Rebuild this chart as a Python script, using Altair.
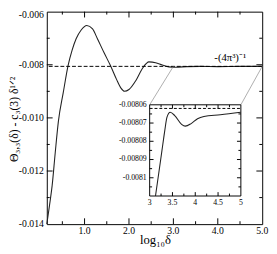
import altair as alt
import pandas as pd

# ---------------- data ----------------
main_x = [0.15, 0.21, 0.27, 0.34, 0.41, 0.52, 0.63, 0.72, 0.81, 0.92, 1.05, 1.18, 1.29, 1.44,
          1.58, 1.72, 1.82, 1.90, 2.00, 2.16, 2.31, 2.45, 2.60, 2.75, 2.90, 3.05, 3.30, 3.60,
          4.00, 4.50, 5.00]
main_y = [-0.01400, -0.01330, -0.01255, -0.01130, -0.01014, -0.00905, -0.00802, -0.00745,
          -0.00702, -0.00670, -0.00652, -0.00665, -0.00702, -0.00755, -0.00802, -0.00855,
          -0.00888, -0.00900, -0.00893, -0.00858, -0.00812, -0.00789, -0.00792, -0.00801,
          -0.00808, -0.00809, -0.00807, -0.00806, -0.00807, -0.00806, -0.00806]

inset_x = [3.128, 3.20, 3.27, 3.33, 3.38, 3.45, 3.55, 3.70, 3.78, 3.91, 4.05, 4.19, 4.55, 5.00]
inset_y = [-0.008110, -0.0080974, -0.008085, -0.0080744, -0.0080668, -0.0080641, -0.0080659,
           -0.0080707, -0.0080717, -0.0080703, -0.0080676, -0.0080664, -0.0080655, -0.0080641]

asymptote_main = [-0.00806]
asymptote_inset = [-0.008062]
connect_x = [3.0, 5.0]
connect_y = [-0.00806, -0.00806]

main_x_labels = [1.0, 2.0, 3.0, 4.0, 5.0]
main_x_label_text = ["1.0", "2.0", "3.0", "4.0", "5.0"]
main_y_top_label = [-0.006]
main_y_top_label_text = ["-0.006"]
main_y_labels = [-0.008, -0.010, -0.012, -0.014]
main_y_label_text = ["-0.008", "-0.010", "-0.012", "-0.014"]
main_x_major = [1.0, 2.0, 3.0, 4.0]
main_x_minor = [0.5, 1.5, 2.5, 3.5, 4.5]
main_y_major = [-0.008, -0.010, -0.012]
main_y_minor = [-0.007, -0.009, -0.011, -0.013]

inset_x_labels = [3.0, 3.5, 4.0, 4.5, 5.0]
inset_x_label_text = ["3", "3.5", "4", "4.5", "5"]
inset_y_labels = [-0.00806, -0.00807, -0.00808, -0.00809, -0.0081]
inset_y_label_text = ["-0.00806", "-0.00807", "-0.00808", "-0.00809", "-0.0081"]
inset_x_major = [3.5, 4.0, 4.5]
inset_x_minor = [3.25, 3.75, 4.25, 4.75]
inset_y_major = [-0.00807, -0.00808, -0.00809, -0.0081]
inset_y_minor = [-0.008065, -0.008075, -0.008085, -0.008095, -0.008105]

label_x = [4.28]
label_y = [-0.00787]
label_text = ["-(4π³)⁻¹"]

x_title = ["log₁₀δ"]
y_title = ["Θ₃,₃(δ) - c₃(3) δ¹ᐟ²"]

# ---------------- layout ----------------
FONT = "Liberation Serif"
W, H = 222, 219
IN_L, IN_R, IN_T, IN_B = 106, 200, 96, 190

xs_main = alt.Scale(domain=[0.15, 5.0], nice=False, zero=False)
ys_main = alt.Scale(domain=[-0.014, -0.006], nice=False, zero=False)
xs_in = alt.Scale(domain=[3.0, 5.0], range=[IN_L, IN_R], nice=False, zero=False)
ys_in = alt.Scale(domain=[-0.00811, -0.00806], range=[IN_B, IN_T], nice=False, zero=False)


def vticks(vals, scale, y0, y1):
    return alt.Chart(pd.DataFrame({"v": vals})).mark_rule(color="black", strokeWidth=1).encode(
        x=alt.X("v:Q", scale=scale, axis=None), y=alt.value(y0), y2=alt.value(y1))


def hticks(vals, scale, x0, x1):
    return alt.Chart(pd.DataFrame({"v": vals})).mark_rule(color="black", strokeWidth=1).encode(
        y=alt.Y("v:Q", scale=scale, axis=None), x=alt.value(x0), x2=alt.value(x1))


def xlabels(vals, texts, scale, ypix, size):
    return alt.Chart(pd.DataFrame({"v": vals, "t": texts})).mark_text(
        font=FONT, fontSize=size, align="center", baseline="top", color="black"
    ).encode(x=alt.X("v:Q", scale=scale, axis=None), y=alt.value(ypix), text="t:N")


def ylabels(vals, texts, scale, xpix, size, dy=0):
    return alt.Chart(pd.DataFrame({"v": vals, "t": texts})).mark_text(
        font=FONT, fontSize=size, align="right", baseline="middle", color="black", dy=dy
    ).encode(y=alt.Y("v:Q", scale=scale, axis=None), x=alt.value(xpix), text="t:N")


# ---------------- main panel ----------------
main_curve = alt.Chart(pd.DataFrame({"x": main_x, "y": main_y})).mark_line(
    color="#222222", strokeWidth=1.1, interpolate="monotone"
).encode(x=alt.X("x:Q", scale=xs_main, axis=None), y=alt.Y("y:Q", scale=ys_main, axis=None))

main_dash = alt.Chart(pd.DataFrame({"a": asymptote_main})).mark_rule(
    color="black", strokeWidth=1, strokeDash=[4, 2]
).encode(y=alt.Y("a:Q", scale=ys_main, axis=None))

conn_df = pd.DataFrame({"x": connect_x, "y": connect_y})
conn_left = alt.Chart(conn_df.iloc[[0]]).mark_rule(color="#888888", strokeWidth=0.7).encode(
    x=alt.X("x:Q", scale=xs_main, axis=None), y=alt.Y("y:Q", scale=ys_main, axis=None),
    x2=alt.value(IN_L), y2=alt.value(IN_T))
conn_right = alt.Chart(conn_df.iloc[[1]]).mark_rule(color="#888888", strokeWidth=0.7).encode(
    x=alt.X("x:Q", scale=xs_main, axis=None), y=alt.Y("y:Q", scale=ys_main, axis=None),
    x2=alt.value(IN_R), y2=alt.value(IN_T))

label = alt.Chart(pd.DataFrame({"x": label_x, "y": label_y, "t": label_text})).mark_text(
    font=FONT, fontSize=11, align="center", baseline="alphabetic", color="black"
).encode(x=alt.X("x:Q", scale=xs_main, axis=None), y=alt.Y("y:Q", scale=ys_main, axis=None),
         text="t:N")

xt = alt.Chart(pd.DataFrame({"t": x_title})).mark_text(
    font=FONT, fontSize=13, align="center", baseline="alphabetic", color="black"
).encode(x=alt.value(112), y=alt.value(239), text="t:N")

yt = alt.Chart(pd.DataFrame({"t": y_title})).mark_text(
    font=FONT, fontSize=12, align="center", baseline="middle", angle=270, color="black"
).encode(x=alt.value(-34), y=alt.value(111), text="t:N")

main = alt.layer(
    main_curve, main_dash,
    vticks(main_x_major, xs_main, H, H - 6), vticks(main_x_minor, xs_main, H, H - 3),
    vticks(main_x_major, xs_main, 0, 6), vticks(main_x_minor, xs_main, 0, 3),
    hticks(main_y_major, ys_main, 0, 6), hticks(main_y_minor, ys_main, 0, 3),
    hticks(main_y_major, ys_main, W, W - 6), hticks(main_y_minor, ys_main, W, W - 3),
    xlabels(main_x_labels, main_x_label_text, xs_main, H + 2, 10),
    ylabels(main_y_labels, main_y_label_text, ys_main, -3, 10),
    ylabels(main_y_top_label, main_y_top_label_text, ys_main, -3, 10, dy=4),
    conn_left, conn_right, label, xt, yt,
)

# ---------------- inset panel ----------------
box = alt.Chart(pd.DataFrame({"x0": [3.0], "x1": [5.0], "y0": [-0.00811], "y1": [-0.00806]})).mark_rect(
    fill="white", stroke="black", strokeWidth=1
).encode(
    x=alt.X("x0:Q", scale=xs_in, axis=None), x2="x1:Q",
    y=alt.Y("y0:Q", scale=ys_in, axis=None), y2="y1:Q",
)

inset_dash = alt.Chart(pd.DataFrame({"x0": [3.0], "x1": [5.0], "a": asymptote_inset})).mark_rule(
    color="black", strokeWidth=1, strokeDash=[3, 2]
).encode(x=alt.X("x0:Q", scale=xs_in, axis=None), x2="x1:Q",
         y=alt.Y("a:Q", scale=ys_in, axis=None))

inset_curve = alt.Chart(pd.DataFrame({"x": inset_x, "y": inset_y})).mark_line(
    color="#222222", strokeWidth=1.1, interpolate="monotone"
).encode(x=alt.X("x:Q", scale=xs_in, axis=None), y=alt.Y("y:Q", scale=ys_in, axis=None))

inset = alt.layer(
    box, inset_dash, inset_curve,
    vticks(inset_x_major, xs_in, IN_B, IN_B - 4), vticks(inset_x_minor, xs_in, IN_B, IN_B - 2.5),
    vticks(inset_x_major, xs_in, IN_T, IN_T + 4), vticks(inset_x_minor, xs_in, IN_T, IN_T + 2.5),
    hticks(inset_y_major, ys_in, IN_L, IN_L + 4), hticks(inset_y_minor, ys_in, IN_L, IN_L + 2.5),
    hticks(inset_y_major, ys_in, IN_R, IN_R - 4), hticks(inset_y_minor, ys_in, IN_R, IN_R - 2.5),
    xlabels(inset_x_labels, inset_x_label_text, xs_in, IN_B + 3, 8),
    ylabels(inset_y_labels, inset_y_label_text, ys_in, IN_L - 3, 8),
)

chart = alt.layer(main, inset).resolve_scale(x="independent", y="independent").properties(
    width=W, height=H,
    autosize=alt.AutoSizeParams(type="none"),
    padding={"left": 40, "top": 0, "right": 7, "bottom": 27},
).configure_view(stroke="black", strokeWidth=1)

chart.save("out.html", embed_options={"renderer": "svg", "actions": False})
